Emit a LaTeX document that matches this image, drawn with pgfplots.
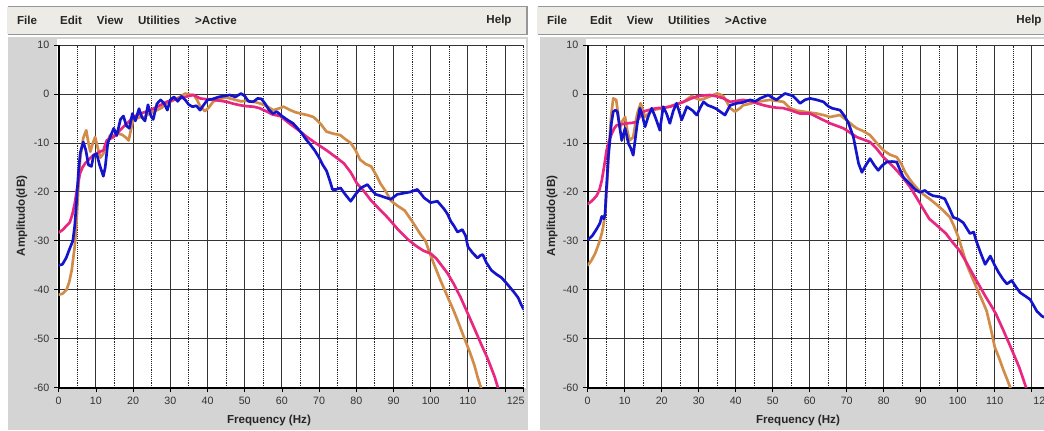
\documentclass[border=0pt]{standalone}
\usepackage{pgfplots}
\pgfplotsset{compat=1.18}
\usepackage{fontspec}
\setmainfont{Liberation Sans}
\definecolor{cblue}{RGB}{20,20,205}
\definecolor{cpink}{RGB}{232,40,128}
\definecolor{corange}{RGB}{208,140,72}
\definecolor{panelgray}{RGB}{212,212,212}
\definecolor{menugray}{RGB}{236,235,230}
\definecolor{shadowgray}{RGB}{150,150,150}
\pgfplotsset{panel/.style={
  scale only axis, height=257pt,
  xmin=0,xmax=125,ymin=-60,ymax=10,
  xtick={0,10,...,120},
  xticklabels={0,10,20,30,40,50,60,70,80,90,100,110,{}},
  minor xtick={5,15,...,125},
  ytick={-60,-50,...,10},
  yticklabels={-60,-50,-40,-30,-20,-10,0,10},
  extra x ticks={125}, extra x tick labels={125},
  extra x tick style={grid=none, tick label style={xshift=-6pt}},
  xmajorgrids, xminorgrids, ymajorgrids,
  major grid style={black!80, line width=0.65pt},
  minor grid style={black!85, densely dotted, line width=0.65pt},
  axis x line*=bottom, axis y line*=left,
  axis line style={-, line width=1.4pt, black},
  tick align=outside, major tick length=3.5pt, minor tick length=0pt,
  tick style={black, line width=0.6pt},
  tick label style={font=\fontsize{8}{9.5}\selectfont, text=black!80},
  every axis plot/.append style={line width=2pt, line join=round, line cap=round},
}}
\newcommand{\menu}[1]{\bfseries\fontsize{8.7}{10}\selectfont #1}
\begin{document}
\begin{tikzpicture}[x=0.75pt,y=0.75pt]
\fill[white] (0,0) rectangle (1044,430);
% left window
\fill[panelgray] (8,0) rectangle (528,393);
\fill[white] (57,42) rectangle (526,391);
\fill[shadowgray] (8,395) rectangle (528,424);
\fill[menugray] (7,396) rectangle (526,423);
% right window
\fill[panelgray] (540,0) rectangle (1044,393);
\fill[white] (586,42) rectangle (1044,391);
\fill[shadowgray] (538,395) rectangle (1044,424);
\fill[menugray] (537,396) rectangle (1044,423);
% menu texts
\foreach \dx in {0,530}{
  \node[text=black!85] at (27+\dx,410) {\menu{File}};
  \node[text=black!85] at (71+\dx,410) {\menu{Edit}};
  \node[text=black!85] at (110+\dx,410) {\menu{View}};
  \node[text=black!85] at (159+\dx,410) {\menu{Utilities}};
  \node[text=black!85] at (216+\dx,410) {\menu{>Active}};
}
\node[text=black!85] at (499,410) {\menu{Help}};
\node[text=black!85] at (1029,410) {\menu{Help}};
% axis labels
\node[text=black!85] at (269,10) {\menu{Frequency (Hz)}};
\node[text=black!85] at (798,10) {\menu{Frequency (Hz)}};
\node[text=black!85, rotate=90] at (22,214) {\menu{Amplitudo(dB)}};
\node[text=black!85, rotate=90] at (552,214) {\menu{Amplitudo(dB)}};

\begin{axis}[panel, at={(44.025pt,31.725pt)}, anchor=south west, width=348.75pt]
\addplot[corange] coordinates {(0,-41)(1,-40.8)(2.1,-40)(2.8,-38.5)(3.5,-36)(4.3,-31.2)(4.8,-26)(5.3,-19)(5.8,-13)(6.6,-9)(7.4,-7.4)(8,-10)(8.5,-11.8)(9.2,-10)(9.8,-8.8)(10.5,-11)(11.2,-13)(12,-12.2)(13,-10)(13.8,-8.4)(15,-8.5)(16,-8.1)(17,-8.3)(17.9,-8.8)(18.8,-9.5)(19.5,-7)(20,-5.3)(21,-5)(21.8,-4.7)(22.8,-4.8)(23.7,-4.3)(25,-3.8)(26.4,-3.3)(27.7,-2.8)(29,-1.9)(30.5,-1.4)(31.8,-0.9)(33,-0.4)(34,0.1)(35,-0.1)(36.3,-0.2)(37.2,-1.2)(38,-2.5)(39.3,-3.5)(40.3,-2.8)(41.6,-1.5)(43.3,-1)(45,-0.7)(47,-1.1)(49,-1.5)(50.5,-1.4)(52,-1.5)(54,-1.9)(56,-2.5)(57.6,-3.3)(59,-3.0)(60.5,-2.6)(62,-3.2)(63.5,-3.7)(65,-4)(66.8,-4.3)(68.5,-4.7)(70.3,-6)(72,-7.7)(73.8,-8.1)(75.7,-8.4)(77,-9.2)(78.5,-10)(79.8,-11.5)(81,-13.4)(82.5,-14.3)(84,-14.8)(85.3,-16.5)(86.5,-18.3)(88,-20)(89.3,-21.8)(91,-22.8)(93,-23.8)(95,-26)(97.2,-28.6)(98.6,-30)(99.5,-32)(101,-35)(102.6,-38)(104.4,-41.2)(106.2,-44.3)(107.6,-47)(109,-49.8)(110.4,-52.5)(111.7,-55.3)(112.6,-57.8)(113.5,-60)(113.7,-60.5)};
\addplot[cpink] coordinates {(0,-28.3)(1,-27.8)(2,-27)(3,-26.2)(3.7,-24.5)(4.3,-22.4)(5,-19)(5.7,-16.3)(6.4,-15)(7.1,-14.2)(8.2,-13.3)(9.3,-12.5)(10.5,-12)(12,-11.5)(12.9,-9.5)(14.7,-8.8)(16,-7.8)(17.4,-6.7)(18.7,-5.8)(20,-4.7)(22,-4)(24.6,-3.3)(27,-2.4)(29,-1.6)(30.8,-1.2)(32.6,-0.9)(34.5,-0.5)(36.2,-0.2)(38,-0.9)(40,-1.1)(41.6,-1.2)(43.5,-1.4)(45.2,-1.6)(47,-2)(48.8,-2.3)(50.6,-2.5)(52.4,-2.6)(54,-2.9)(56,-3.6)(57.5,-4.2)(59.5,-4.5)(62,-6)(64.5,-7.4)(66.6,-8.7)(69,-10)(72,-11.5)(74.5,-12.9)(76.7,-14.2)(78.5,-16)(80.2,-18.3)(82,-19.8)(84,-21.8)(86.2,-23.5)(88.5,-25.3)(91,-27.5)(93.7,-29.6)(96,-31)(98,-32)(100,-32.6)(101.5,-33.6)(102.6,-34.7)(104.5,-36.6)(106.2,-38.8)(108,-41.5)(110,-44.9)(111.8,-48)(113.5,-51)(115,-53.5)(116.2,-55.8)(117.2,-57.8)(118,-59.8)(118.3,-60.5)};
\addplot[cblue] coordinates {(0,-35)(1,-34.8)(2,-33.5)(3,-31.5)(3.8,-30)(4.3,-27)(4.8,-22)(5.3,-16)(5.8,-12)(6.6,-9.8)(7.3,-11.5)(8.0,-14.5)(8.8,-14.8)(9.4,-12.5)(10.2,-12.2)(11.0,-14.5)(12.0,-16.8)(12.5,-15)(13.2,-10)(14.0,-8.5)(14.8,-7)(15.6,-8.5)(16.6,-5.2)(17.4,-4.5)(18.2,-6.5)(19.0,-7)(19.8,-4)(20.6,-5.5)(21.6,-3)(22.4,-4.8)(23.2,-5.5)(24.0,-2.2)(24.8,-4.5)(25.4,-5.2)(26.4,-2)(27.4,-1.2)(28.4,-2)(29.2,-3.3)(30.0,-1.2)(31.0,-0.6)(32.0,-1.5)(33.0,-0.5)(34.0,-1.2)(35.0,-2.2)(36.0,-2.6)(37.0,-2.4)(38.0,-3.3)(39.0,-2.2)(40.0,-1.2)(41.5,-1)(43,-0.6)(44.5,-0.4)(46,-0.2)(47.5,-0.6)(49,0.1)(50,-0.4)(51,-1.5)(52.3,-1.6)(53.5,-0.9)(54.5,-1.0)(55.5,-2.0)(56.5,-3.2)(57.6,-4)(58.6,-3.6)(60,-4.5)(61.5,-5.3)(63,-6)(64.2,-7)(65.3,-8)(66.5,-9.3)(67.5,-10.2)(68.8,-11.5)(70,-13)(71,-14.5)(72,-15.7)(72.8,-17.5)(73.6,-19.5)(74.5,-19.5)(75.8,-19.2)(77,-20.5)(78.5,-21.9)(79.8,-20.5)(81.2,-19.2)(82.2,-18.8)(83,-18.5)(84,-19.5)(85.2,-20.5)(86.5,-20.8)(88,-21.2)(89.3,-21.5)(91,-20.5)(92.5,-20.3)(94.6,-20)(96.4,-19.5)(97.3,-20.3)(98.2,-21.2)(100,-22.2)(101.8,-21.9)(103.6,-23.5)(104.5,-24.5)(105.4,-26)(106.3,-27)(107.2,-28.2)(108.5,-27.7)(109.4,-29)(110,-31.2)(111.3,-32.5)(112.6,-33.5)(113.3,-33)(114,-32.8)(115,-34.5)(116.3,-36)(117.6,-36.8)(119,-37.5)(120.2,-38.5)(121.3,-39.5)(122.4,-40.5)(123.5,-41.6)(124.3,-43)(125,-44)};
\end{axis}

\begin{axis}[panel, at={(440.775pt,31.725pt)}, anchor=south west, width=346.9pt]
\addplot[corange] coordinates {(0,-35)(1,-34)(2,-32.6)(2.8,-31)(3.3,-29.8)(3.8,-28.5)(4.2,-27)(4.7,-24.5)(5,-21)(5.3,-17.7)(5.6,-13)(6,-8.1)(6.4,-4)(6.9,-0.9)(7.7,-1.2)(8.2,-4)(8.7,-7)(9.4,-5.5)(10.1,-4.7)(10.7,-7.5)(11.3,-9.5)(12.3,-8.8)(12.9,-6)(13.4,-4)(14.3,-1.9)(15.5,-4.7)(16.4,-4)(17.3,-3.3)(18.8,-3.1)(20.4,-2.9)(21.8,-2.6)(23.1,-2.3)(24.5,-2)(25.9,-1.6)(27,-1)(28.1,-0.4)(29.3,-0.9)(30.4,-1.2)(31.7,-0.9)(33,-0.5)(34.9,0.1)(35.8,-0.1)(36.7,-0.5)(37.6,-1.6)(38.5,-2.9)(39.8,-3.6)(41,-3)(42,-2.3)(43.8,-2)(45.7,-1.6)(47.5,-1.4)(49.3,-1.2)(51,-1.4)(52.9,-1.6)(54.7,-2.9)(56.5,-3.4)(58.3,-3.6)(60.1,-3.8)(61.9,-4)(63.7,-4.3)(65.5,-4.7)(66.8,-4.5)(68.2,-4.3)(69.4,-5)(70.5,-5.7)(71.6,-6.4)(72.7,-7)(74.5,-7.6)(76.3,-8.4)(78.1,-10)(79.9,-11.5)(81.7,-12.4)(83.5,-12.9)(84.7,-14.2)(85.8,-16)(86.9,-17.3)(88,-18.4)(89.3,-19.5)(90.7,-20.5)(92.5,-21.5)(94.3,-22.6)(96.1,-23.8)(97.9,-25.2)(99,-27)(100.2,-29.3)(101.2,-31.8)(102.4,-34.8)(103.8,-37.3)(105.1,-39.6)(106.4,-41.8)(107.8,-44.3)(108.9,-47.8)(110,-51.7)(111.2,-54)(112.4,-56.5)(113.3,-58.2)(114.2,-60)(114.4,-60.5)};
\addplot[cpink] coordinates {(0,-22.5)(1.2,-21.8)(2.4,-20.8)(3.2,-19.5)(3.8,-17.7)(4.5,-14.5)(5.1,-11.5)(5.8,-9.5)(6.5,-8.1)(7.2,-7)(7.8,-6.4)(9,-6.2)(10.5,-6)(12,-5.9)(13.2,-5.7)(14.2,-4.5)(15,-3.6)(16.8,-3.2)(18.6,-2.9)(20.5,-2.8)(22.3,-2.6)(24,-2.1)(25.9,-1.6)(27.7,-1)(29.5,-0.5)(31.3,-0.3)(33,-0.2)(35,-0.5)(36.7,-0.9)(38.5,-1.6)(40.3,-1.4)(42,-1.2)(44,-1.5)(45.7,-1.9)(47.5,-2.3)(49.3,-2.6)(51,-2.8)(52.9,-2.9)(54.7,-3.3)(57.4,-4)(60.1,-4)(62.8,-5)(65.5,-6)(67.3,-6.5)(69.1,-7)(70.9,-7.9)(72.7,-8.8)(74.5,-9.3)(76.3,-9.8)(78.1,-11.2)(79.9,-12.9)(81.7,-14.2)(83.5,-15.6)(85.3,-17.2)(87.1,-19)(88.9,-21.2)(90.7,-23.5)(92.3,-25.5)(94.3,-26.8)(96.8,-28.5)(98.5,-30.2)(100.4,-31.9)(102.2,-34.2)(104,-36.7)(105.8,-39.1)(107.6,-41.5)(109,-43.2)(110.3,-44.9)(112.1,-47.9)(113.9,-51)(115.2,-53.3)(116.6,-55.8)(117.5,-57.8)(118.4,-59.8)(118.6,-60.5)};
\addplot[cblue] coordinates {(0,-29.8)(1.2,-29)(2.4,-27.6)(3.3,-26.4)(3.8,-25)(4.4,-25.5)(4.7,-24.5)(5.0,-20)(5.3,-16.3)(5.6,-12.5)(6,-9.5)(6.4,-6)(6.9,-3.6)(7.5,-3.3)(8,-3.6)(8.6,-6.5)(9.2,-9.5)(10.1,-7)(11,-10.1)(11.6,-11)(12.3,-12.5)(12.8,-9.5)(13.4,-6)(14.1,-2.9)(14.8,-4.5)(15.5,-6.7)(16.4,-4.5)(17.3,-2.9)(18.4,-5)(19.5,-7.4)(20.4,-2.6)(21.3,-4)(22.2,-6)(23.1,-3.5)(24,-1.9)(24.7,-3.5)(25.4,-5.3)(26.8,-2.6)(28.2,-3.3)(29.5,-4.3)(30.4,-2.8)(31.3,-1.6)(32.4,-2.3)(33.5,-2.6)(34.7,-3)(35.8,-3.6)(37.1,-4.3)(38.5,-2.3)(40.3,-1.9)(42,-1.7)(43.9,-1.2)(45.3,-1.5)(46.6,-0.9)(48.8,-0.2)(50,-0.8)(51,-1.2)(52.2,-0.5)(53.3,0.1)(54.7,-0.2)(55.6,-0.5)(57.4,-1.9)(58.7,-1.2)(60.1,-0.9)(61.9,-1.2)(63.7,-1.6)(65,-2.5)(66,-2.9)(68.2,-3.3)(69.4,-4.5)(70.5,-6)(71.8,-8.8)(72.5,-11.5)(73.2,-14.2)(74.1,-16)(75.2,-14.5)(76.3,-13.2)(77.4,-14.5)(78.5,-15.6)(79.6,-14.6)(80.8,-13.9)(82.2,-13.8)(83.5,-13.9)(84.4,-15.5)(85.3,-17)(87.1,-18.4)(88.5,-19.5)(89.8,-20.1)(91.1,-19.7)(92.3,-20.4)(93.4,-20.8)(95,-21)(96.5,-21.4)(97.7,-23.3)(98.8,-25.2)(100.2,-25.6)(101.5,-26.3)(103.3,-28.5)(104.3,-28.2)(105,-30)(106.2,-32.5)(107.4,-34.8)(108.8,-33.1)(110,-35)(111,-36.4)(112.2,-37.8)(113.3,-38.8)(114.6,-38.1)(115.8,-39.5)(116.9,-40.6)(118.3,-41.3)(119.6,-42)(120.5,-43.2)(121.4,-44.4)(122.8,-45.4)(124,-45.8)(125,-46.5)};
\end{axis}
\pgfresetboundingbox
\useasboundingbox (0,0) rectangle (1044,430);
\end{tikzpicture}
\end{document}
